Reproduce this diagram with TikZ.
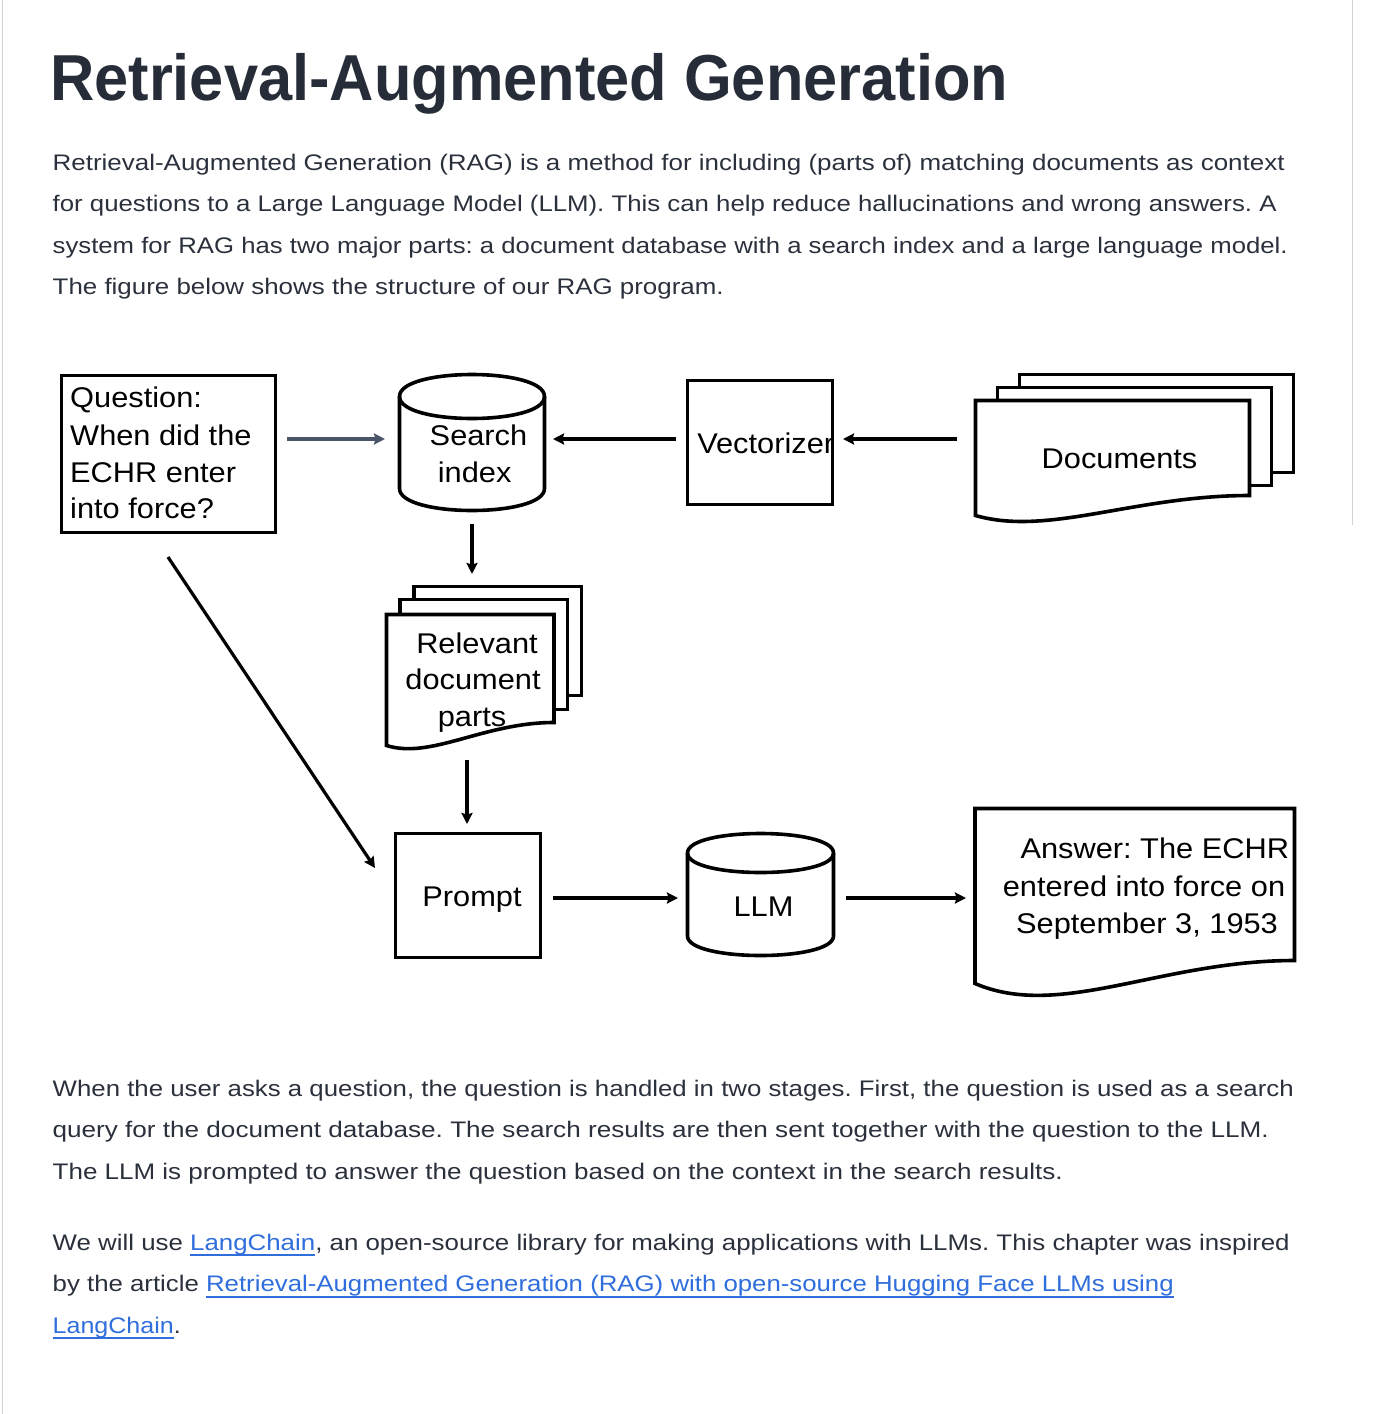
\documentclass[tikz,border=0pt]{standalone}
\usepackage{fontspec}
\setmainfont{Liberation Sans}
\newfontfamily\diagfont{Liberation Sans}[FakeStretch=1.08]
\usetikzlibrary{arrows.meta,calc}
\definecolor{textc}{HTML}{2B313C}
\definecolor{titlec}{HTML}{272D38}
\definecolor{linkc}{HTML}{2F6EDC}
\definecolor{slate}{HTML}{4B5568}
\definecolor{edgec}{HTML}{D2D2DA}
\newcommand\lnk[1]{\textcolor{linkc}{\setbox0\hbox{#1}\rlap{\rule[-6pt]{\wd0}{2pt}}\box0}}
\newcommand\bodyfont{\fontsize{22.5}{41.5}\selectfont}
\frenchspacing
\begin{document}
\begin{tikzpicture}[x=1pt,y=-1pt,
  shp/.style={draw=black,line width=3.6pt,fill=white,inner sep=0pt,outer sep=0pt},
  frame/.style={inner sep=0pt,outer sep=0pt},
  arr/.style={-{Stealth[length=11pt,width=11pt,inset=1.5pt]},line width=3.2pt,draw=black},
  dlabel/.style={font=\diagfont\fontsize{28.5}{37}\selectfont,inner sep=0pt,anchor=base,text=black},
  qlabel/.style={dlabel,anchor=base west},
  body/.style={anchor=base west,inner sep=0pt,text=textc,font=\bodyfont},
]
\useasboundingbox (0,0) rectangle (1376,1414);
\fill[white] (0,0) rectangle (1376,1414);
\draw[edgec,line width=1.5pt] (2.5,0) -- (2.5,1414);
\draw[edgec,line width=1.5pt] (1352.5,0) -- (1352.5,525);

% title and text
\node[anchor=base west,inner sep=0pt,text=titlec] (title) at (50,100) {\resizebox{958pt}{\height}{\fontsize{65}{70}\selectfont\bfseries Retrieval-Augmented Generation}};
\node[body] (t1) at (52.5,170) {\resizebox{1232pt}{\height}{Retrieval-Augmented Generation (RAG) is a method for including (parts of) matching documents as context}};
\node[body] (t2) at (52.5,211.5) {\resizebox{1224pt}{\height}{for questions to a Large Language Model (LLM). This can help reduce hallucinations and wrong answers. A}};
\node[body] (t3) at (52.5,253) {\resizebox{1235pt}{\height}{system for RAG has two major parts: a document database with a search index and a large language model.}};
\node[body] (t4) at (52.5,294.5) {\resizebox{671pt}{\height}{The figure below shows the structure of our RAG program.}};

\node[body] (b1) at (52.5,1096) {\resizebox{1241pt}{\height}{When the user asks a question, the question is handled in two stages. First, the question is used as a search}};
\node[body] (b2) at (52.5,1137.5) {\resizebox{1216pt}{\height}{query for the document database. The search results are then sent together with the question to the LLM.}};
\node[body] (b3) at (52.5,1179) {\resizebox{1010pt}{\height}{The LLM is prompted to answer the question based on the context in the search results.}};
\node[body] (c1) at (52.5,1250) {\resizebox{1237pt}{\height}{We will use \lnk{LangChain}, an open-source library for making applications with LLMs. This chapter was inspired}};
\node[body] (c2) at (52.5,1291.5) {\resizebox{1121pt}{\height}{by the article \lnk{Retrieval-Augmented Generation (RAG) with open-source Hugging Face LLMs using}}};
\node[body] (c3) at (52.5,1333) {\resizebox{128pt}{\height}{\lnk{LangChain}.}};

% question
\node[shp,minimum width=214pt,minimum height=157pt] (q) at (168.5,454) {};
\node[qlabel] (q1) at (70,407) {Question:};
\node[qlabel] (q2) at (70,445) {When did the};
\node[qlabel] (q3) at (70,482) {ECHR enter};
\node[qlabel] (q4) at (70,518) {into force?};

% search index cylinder
\node[frame,minimum width=145pt,minimum height=136pt] (si) at (472,442.5) {};
\path[shp] ($(si.north west)+(0,22)$) -- ($(si.south west)+(0,-22)$) .. controls ($(si.south west)+(0,7.33)$) and ($(si.south east)+(0,7.33)$) .. ($(si.south east)+(0,-22)$) -- ($(si.north east)+(0,22)$) .. controls ($(si.north east)+(0,-7.33)$) and ($(si.north west)+(0,-7.33)$) .. cycle;
\draw[shp,fill=none] ($(si.north west)+(0,22)$) .. controls ($(si.north west)+(0,51.33)$) and ($(si.north east)+(0,51.33)$) .. ($(si.north east)+(0,22)$);
\node[dlabel] (si1) at (478.5,445) {Search};
\node[dlabel] (si2) at (474.7,482) {index};

% vectorizer
\node[shp,minimum width=145pt,minimum height=124pt] (v) at (760,442.5) {};
\node[dlabel] (vt) at (765.7,453) {Vectorizer};

% documents
\node[frame,minimum width=274pt,minimum height=115pt] (docs) at (1112.5,458) {};
\path[shp] ($(docs.north west)+(44,-26)$) rectangle ($(docs.north west)+(318,72)$);
\path[shp] ($(docs.north west)+(22,-13)$) rectangle ($(docs.north west)+(296,85)$);
\path[shp] (docs.south west) -- (docs.north west) -- (docs.north east) -- ($(docs.north east)+(0,95)$) .. controls ($(docs.north east)+(-115,95)$) and ($(docs.south west)+(73,21)$) .. (docs.south west) -- cycle;
\node[dlabel] (dt) at (1119.5,468) {Documents};

% relevant document parts
\node[frame,minimum width=167.5pt,minimum height=131pt] (rel) at (470.25,680) {};
\path[shp] ($(rel.north west)+(27.5,-28)$) rectangle ($(rel.north west)+(195,81)$);
\path[shp] ($(rel.north west)+(13.5,-15)$) rectangle ($(rel.north west)+(181,95)$);
\path[shp] (rel.south west) -- (rel.north west) -- (rel.north east) -- ($(rel.north east)+(0,108)$) .. controls ($(rel.north east)+(-70.5,108)$) and ($(rel.south west)+(44.5,14)$) .. (rel.south west) -- cycle;
\node[dlabel] (r1) at (477,653) {Relevant};
\node[dlabel] (r2) at (473,689) {document};
\node[dlabel] (r3) at (472,726) {parts};

% prompt
\node[shp,minimum width=145pt,minimum height=124pt] (p) at (468,895.5) {};
\node[dlabel] (pt) at (472,906) {Prompt};

% LLM cylinder
\node[frame,minimum width=146pt,minimum height=122pt] (llm) at (760.5,894.5) {};
\path[shp] ($(llm.north west)+(0,19.5)$) -- ($(llm.south west)+(0,-19.5)$) .. controls ($(llm.south west)+(0,6.5)$) and ($(llm.south east)+(0,6.5)$) .. ($(llm.south east)+(0,-19.5)$) -- ($(llm.north east)+(0,19.5)$) .. controls ($(llm.north east)+(0,-6.5)$) and ($(llm.north west)+(0,-6.5)$) .. cycle;
\draw[shp,fill=none] ($(llm.north west)+(0,19.5)$) .. controls ($(llm.north west)+(0,45.5)$) and ($(llm.north east)+(0,45.5)$) .. ($(llm.north east)+(0,19.5)$);
\node[dlabel] (lt) at (763.5,916) {LLM};

% answer
\node[frame,minimum width=319.5pt,minimum height=175pt] (ans) at (1134.75,896) {};
\path[shp] (ans.south west) -- (ans.north west) -- (ans.north east) -- ($(ans.north east)+(0,152)$) .. controls ($(ans.north east)+(-134,152)$) and ($(ans.south west)+(85,36.5)$) .. (ans.south west) -- cycle;
\node[dlabel] (a1) at (1154.8,858) {Answer: The ECHR};
\node[dlabel] (a2) at (1144,896) {entered into force on};
\node[dlabel] (a3) at (1147,933) {September 3, 1953};

% connectors
\draw[arr,draw=slate] ($(q.east)+(11.5,-15)$) -- ($(si.west)+(-14.5,-3.5)$);
\draw[arr] ($(v.west)+(-11.5,-3.5)$) -- ($(si.east)+(8.5,-3.5)$);
\draw[arr] ($(docs.west)+(-18.5,-19)$) -- ($(v.east)+(10.5,-3.5)$);
\draw[arr] ($(si.south)+(0,13.5)$) -- ($(rel.north)+(1.75,-40.5)$);
\draw[arr] ($(rel.south)+(-3.25,14.5)$) -- ($(p.north)+(-1,-9.5)$);
\draw[arr] ($(q.south)+(-0.5,24.5)$) -- ($(p.west)+(-20.5,-27.5)$);
\draw[arr] ($(p.east)+(12.5,2.5)$) -- ($(llm.west)+(-9.5,3.5)$);
\draw[arr] ($(llm.east)+(12.5,3.5)$) -- ($(ans.west)+(-9,2)$);
\end{tikzpicture}
\end{document}
